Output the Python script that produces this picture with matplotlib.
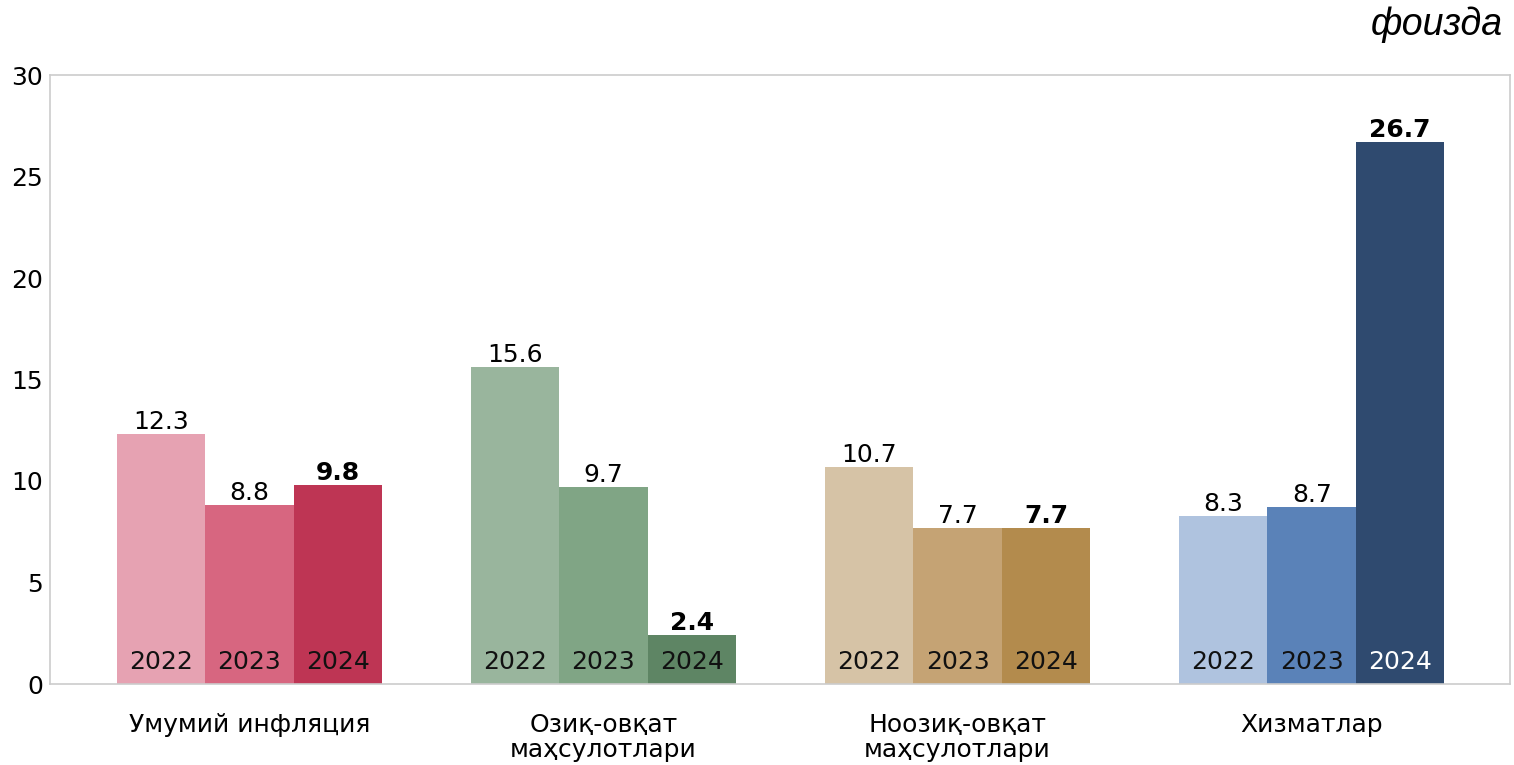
import matplotlib
matplotlib.use("Agg")
import matplotlib.pyplot as plt
import numpy as np

categories = ["Умумий инфляция", "Озиқ-овқат\nмаҳсулотлари", "Ноозиқ-овқат\nмаҳсулотлари", "Хизматлар"]
years = ["2022", "2023", "2024"]
values_2022 = [12.3, 15.6, 10.7, 8.3]
values_2023 = [8.8, 9.7, 7.7, 8.7]
values_2024 = [9.8, 2.4, 7.7, 26.7]
colors = [
    ["#E6A2B2", "#D76680", "#BE3554"],
    ["#99B59D", "#80A585", "#5E8564"],
    ["#D6C3A6", "#C5A374", "#B38B4D"],
    ["#AFC3DF", "#5A82B8", "#2F4A6F"],
]
yticks = [0, 5, 10, 15, 20, 25, 30]

plt.rcParams['font.family'] = 'sans-serif'
plt.rcParams['font.sans-serif'] = ['DejaVu Sans']
FS = 18
fig = plt.figure(figsize=(15.14, 7.65), dpi=100)
ax = fig.add_axes([50/1514, 81/765, 1460/1514, 609/765])

series = [values_2022, values_2023, values_2024]
w = 0.25
x = np.arange(len(categories))
for j, vals in enumerate(series):
    for i, v in enumerate(vals):
        xpos = x[i] + (j - 1) * w
        ax.bar(xpos, v, width=w, color=colors[i][j], linewidth=0)
        bold = (j == 2)
        ax.text(xpos, v + 0.0, f"{v:.1f}", ha='center', va='bottom', fontsize=FS,
                fontweight='bold' if bold else 'normal', color='black')
        tc = 'white' if (i == 3 and j == 2) else '#111111'
        ax.text(xpos, 1.1, years[j], ha='center', va='center', fontsize=FS, color=tc)

ax.set_xlim(-0.563, 3.56)
ax.set_ylim(0, 30)
ax.set_yticks(yticks)
ax.set_xticks(x)
ax.set_xticklabels(categories, fontsize=FS, linespacing=1.02)
ax.tick_params(axis='both', length=0, labelsize=FS)
ax.tick_params(axis='x', pad=21)
ax.tick_params(axis='y', pad=5)
for s in ax.spines.values():
    s.set_color('#CCCCCC')
    s.set_linewidth(1.2)

fig.text(1503/1514, 1 - 25/765, "фоизда", ha='right', va='center', fontsize=27,
         style='italic', family='Liberation Sans')

fig.savefig("out.png", dpi=100)
